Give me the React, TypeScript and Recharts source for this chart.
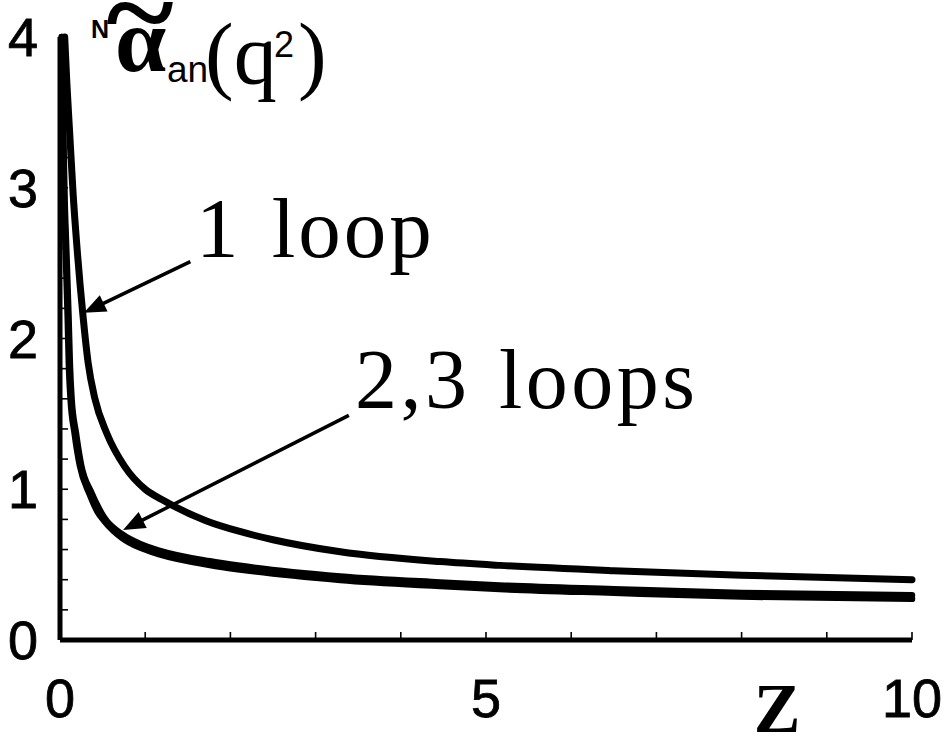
import React from 'react';
import { LineChart, Line, XAxis, YAxis, ReferenceLine, Customized } from 'recharts';

// ---- data ----
const oneLoop = [
  { z: 0.055, v: 4.0 }, { z: 0.08, v: 3.7 }, { z: 0.115, v: 3.35 }, { z: 0.155, v: 2.95 },
  { z: 0.2, v: 2.6 }, { z: 0.27, v: 2.15 }, { z: 0.33, v: 1.84 }, { z: 0.41, v: 1.6 },
  { z: 0.55, v: 1.37 }, { z: 0.76, v: 1.15 }, { z: 1.0, v: 1.0 }, { z: 1.2, v: 0.93 },
  { z: 1.72, v: 0.79 }, { z: 2.11, v: 0.72 }, { z: 2.5, v: 0.665 }, { z: 3.29, v: 0.585 },
  { z: 4.46, v: 0.52 }, { z: 5.16, v: 0.495 }, { z: 6.5, v: 0.46 }, { z: 8.0, v: 0.43 },
  { z: 10, v: 0.4 },
];

const twoLoop = [
  { z: 0.02, v: 4.0 }, { z: 0.033, v: 3.4 }, { z: 0.047, v: 2.95 }, { z: 0.066, v: 2.59 },
  { z: 0.09, v: 2.15 }, { z: 0.104, v: 1.83 }, { z: 0.124, v: 1.6 }, { z: 0.172, v: 1.37 },
  { z: 0.232, v: 1.16 }, { z: 0.35, v: 0.965 }, { z: 0.44, v: 0.852 }, { z: 0.52, v: 0.79 },
  { z: 0.74, v: 0.673 }, { z: 0.94, v: 0.613 }, { z: 1.17, v: 0.568 }, { z: 1.76, v: 0.498 },
  { z: 2.11, v: 0.468 }, { z: 3.29, v: 0.398 }, { z: 4.46, v: 0.358 }, { z: 5.16, v: 0.338 },
  { z: 6.5, v: 0.313 }, { z: 8.0, v: 0.288 }, { z: 10, v: 0.273 },
];

const threeLoop = [
  { z: 0.022, v: 4.0 }, { z: 0.037, v: 3.4 }, { z: 0.053, v: 2.95 }, { z: 0.074, v: 2.59 },
  { z: 0.1, v: 2.15 }, { z: 0.116, v: 1.83 }, { z: 0.136, v: 1.6 }, { z: 0.188, v: 1.37 },
  { z: 0.248, v: 1.16 }, { z: 0.37, v: 0.975 }, { z: 0.46, v: 0.868 }, { z: 0.52, v: 0.81 },
  { z: 0.74, v: 0.697 }, { z: 0.94, v: 0.637 }, { z: 1.17, v: 0.592 }, { z: 1.76, v: 0.522 },
  { z: 2.11, v: 0.492 }, { z: 3.29, v: 0.422 }, { z: 4.46, v: 0.382 }, { z: 5.16, v: 0.362 },
  { z: 6.5, v: 0.337 }, { z: 8.0, v: 0.312 }, { z: 10, v: 0.297 },
];

const xTicks = [0, 1, 2, 3, 4, 5, 6, 7, 8, 9, 10];
const xTickLabels = [0, 5, 10];
const yTicks = [0, 0.2, 0.4, 0.6, 0.8, 1, 1.2, 1.4, 1.6, 1.8, 2, 2.2, 2.4, 2.6, 2.8, 3, 3.2, 3.4, 3.6, 3.8, 4];
const yTickLabels = [0, 1, 2, 3, 4];

// arrow annotations in data coordinates: [from, to(tip)]
const oneLoopArrow = [{ x: 1.53, y: 2.51 }, { x: 0.28, y: 2.17 }];
const multiLoopArrow = [{ x: 3.39, y: 1.49 }, { x: 0.74, y: 0.73 }];

const SANS = '"Liberation Sans", Arial, sans-serif';
const SERIF = '"Liberation Serif", "Times New Roman", serif';

const XTick = (props: any) => {
  const { x, y, payload } = props;
  const v = payload.value;
  return (
    <g>
      <line x1={x} x2={x} y1={y} y2={y - 8} stroke="#000" strokeWidth={1.6} />
      {xTickLabels.includes(v) && (
        <text x={x} y={y + 77} textAnchor="middle" fontFamily={SANS} fontSize={54} fill="#000" stroke="#000" strokeWidth={0.8}>
          {v}
        </text>
      )}
    </g>
  );
};

const YTick = (props: any) => {
  const { x, y, payload } = props;
  const v = payload.value;
  return (
    <g>
      <line x1={x} x2={x + 8} y1={y} y2={y} stroke="#000" strokeWidth={1.6} />
      {yTickLabels.includes(v) && (
        <text x={x - 22} y={y + 19} textAnchor="end" fontFamily={SANS} fontSize={54} fill="#000" stroke="#000" strokeWidth={0.8}>
          {v}
        </text>
      )}
    </g>
  );
};

const ArrowShape = (props: any) => {
  const { x1, y1, x2, y2 } = props;
  if ([x1, y1, x2, y2].some((n) => typeof n !== 'number' || isNaN(n))) return null;
  const dx = x2 - x1;
  const dy = y2 - y1;
  const len = Math.sqrt(dx * dx + dy * dy);
  const ux = dx / len;
  const uy = dy / len;
  const L = 22;
  const W = 9;
  const bx = x2 - ux * L;
  const by = y2 - uy * L;
  const nx = -uy;
  const ny = ux;
  return (
    <g>
      <line x1={x1} y1={y1} x2={bx + ux * 2} y2={by + uy * 2} stroke="#000" strokeWidth={3.5} />
      <polygon
        points={`${x2},${y2} ${bx + nx * W},${by + ny * W} ${bx - nx * W},${by - ny * W}`}
        fill="#000"
      />
    </g>
  );
};

const Annotations = () => (
  <g>
    {/* y-axis title */}
    <text x={91} y={38} fontFamily={SANS} fontWeight="bold" fontSize={25} fill="#000">N</text>
    <text
      x={140}
      y={46}
      textAnchor="middle"
      fontFamily={SERIF}
      fontWeight="bold"
      fontSize={96}
      fill="#000"
      transform="translate(140,21) scale(1.35,1.2) translate(-140,-21)"
    >
      ~
    </text>
    <text x={115} y={71} fontFamily={SERIF} fontWeight="bold" fontSize={92} fill="#000">α</text>
    <text x={167} y={82} fontFamily={SANS} fontSize={37} fill="#000">an</text>
    <text x={205} y={83} fontFamily={SERIF} fontSize={86} fill="#000">(q</text>
    <text x={274} y={57} fontFamily={SANS} fontSize={36} fill="#000">2</text>
    <text x={298} y={83} fontFamily={SERIF} fontSize={86} fill="#000">)</text>

    {/* x-axis title */}
    <text x={777} y={732} textAnchor="middle" fontFamily={SERIF} fontWeight="bold" fontSize={70} fill="#000">Z</text>

    {/* curve labels */}
    <text x={196} y={257} fontFamily={SERIF} fontSize={85} letterSpacing={3} wordSpacing={6} fill="#000">1 loop</text>
    <text x={355} y={408} fontFamily={SERIF} fontSize={84} letterSpacing={3.5} wordSpacing={4} fill="#000">2,3 loops</text>
  </g>
);

export default function App() {
  return (
    <div style={{ position: 'absolute', left: 0, top: 0, width: 946, height: 736, background: '#fff' }}>
      <LineChart width={946} height={736} margin={{ top: 37, right: 34, bottom: 0, left: 0 }}>
        <XAxis
          type="number"
          dataKey="z"
          domain={[0, 10]}
          ticks={xTicks}
          interval={0}
          height={96}
          tickSize={0}
          tickMargin={0}
          tickLine={false}
          axisLine={{ stroke: '#000', strokeWidth: 5 }}
          tick={(p: any) => <XTick {...p} />}
        />
        <YAxis
          type="number"
          dataKey="v"
          domain={[0, 4]}
          ticks={yTicks}
          interval={0}
          width={60}
          tickSize={0}
          tickMargin={0}
          tickLine={false}
          axisLine={{ stroke: '#000', strokeWidth: 5 }}
          tick={(p: any) => <YTick {...p} />}
        />
        <Line data={oneLoop} dataKey="v" type="monotone" stroke="#000" strokeWidth={7} strokeLinecap="round" dot={false} activeDot={false} isAnimationActive={false} />
        <Line data={twoLoop} dataKey="v" type="monotone" stroke="#000" strokeWidth={6.5} strokeLinecap="round" dot={false} activeDot={false} isAnimationActive={false} />
        <Line data={threeLoop} dataKey="v" type="monotone" stroke="#000" strokeWidth={6.5} strokeLinecap="round" dot={false} activeDot={false} isAnimationActive={false} />
        <ReferenceLine segment={oneLoopArrow} shape={(p: any) => <ArrowShape {...p} />} ifOverflow="visible" />
        <ReferenceLine segment={multiLoopArrow} shape={(p: any) => <ArrowShape {...p} />} ifOverflow="visible" />
        <Customized component={Annotations} />
      </LineChart>
    </div>
  );
}
